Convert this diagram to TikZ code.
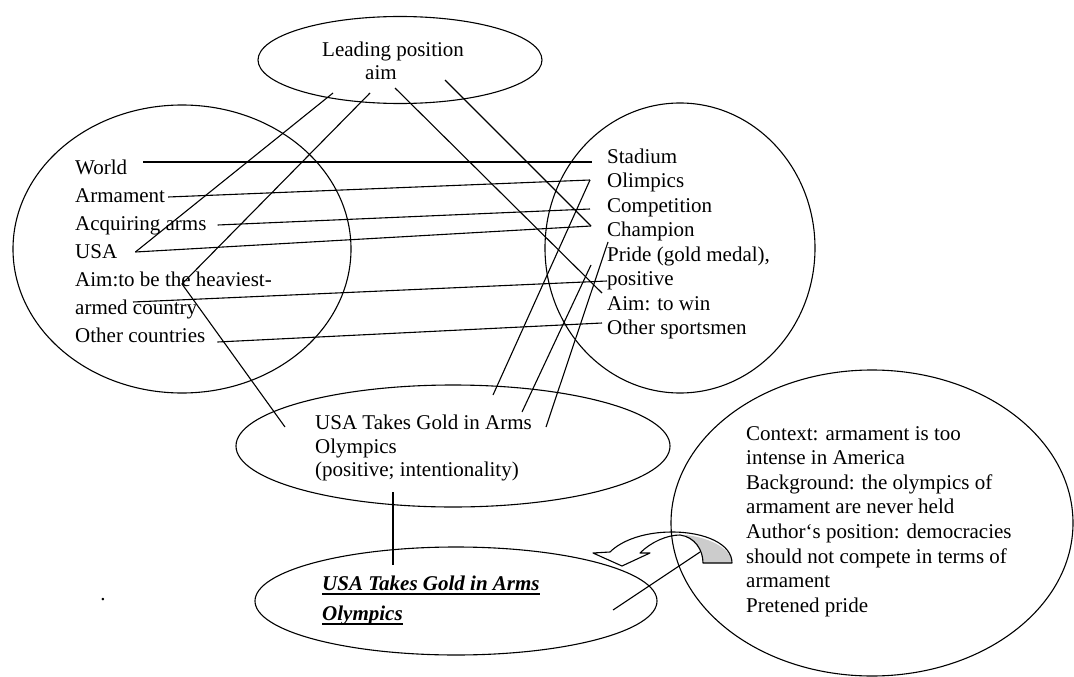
\documentclass[tikz,border=0pt]{standalone}
\usepackage{fontspec}
\setmainfont{Liberation Serif}
\usetikzlibrary{shapes.geometric,calc}

% underlined text with the rule a few points below the baseline
\newcommand{\lowrule}[1]{\setbox0=\hbox{#1}\rlap{\copy0}\rule[-4.5pt]{\wd0}{1.3pt}}

\tikzset{
  oval/.style={draw, ellipse, inner sep=0pt, line width=1.1pt},
  item/.style={inner sep=0pt, anchor=base west, font=\fontsize{21}{25}\selectfont},
  link/.style={line width=1.1pt},
}

\begin{document}
\begin{tikzpicture}[x=1pt,y=-1pt]
\fill[white] (0,0) rectangle (1074,677);
\useasboundingbox (0,0) rectangle (1074,677);

% ---- ovals ----
\node[oval, minimum width=284pt, minimum height=87pt]  (topE) at (400,60)  {};
\node[oval, minimum width=338pt, minimum height=288pt] (leftE) at (182,249) {};
\node[oval, minimum width=270pt, minimum height=290pt] (rightE) at (680,248) {};
\node[oval, minimum width=434pt, minimum height=122pt] (midE) at (453,446) {};
\node[oval, minimum width=402pt, minimum height=108pt] (botE) at (456,601) {};
\node[oval, minimum width=402pt, minimum height=306pt] (ctxE) at (872,523) {};

% ---- top oval text ----
\node[item] (lead) at (322,57) {Leading position};
\node[item] (aimT) at (365,80) {aim};

% ---- left list ----
\node[item] (lWorld) at (75,174) {World};
\node[item] (lArm)   at (75,202) {Armament};
\node[item] (lAcq)   at (75,230) {Acquiring arms};
\node[item] (lUSA)   at (75,258) {USA};
\node[item] (lAim)   at (75,286) {Aim:to be the heaviest-};
\node[item] (lArmed) at (75,314) {armed country};
\node[item] (lOther) at (75,342) {Other countries};

% ---- right list ----
\node[item] (rStad)  at (607,163)   {Stadium};
\node[item] (rOlim)  at (607,187.5) {Olimpics};
\node[item] (rComp)  at (607,212)   {Competition};
\node[item] (rChamp) at (607,236.5) {Champion};
\node[item] (rPride) at (607,261)   {Pride (gold medal),};
\node[item] (rPos)   at (607,285.5) {positive};
\node[item] (rAim)   at (607,310)   {Aim: to win};
\node[item] (rOther) at (607,334.5) {Other sportsmen};

% ---- middle oval text ----
\node[item] (m1) at (315,429) {USA Takes Gold in Arms};
\node[item] (m2) at (315,453) {Olympics};
\node[item] (m3) at (315,476) {(positive; intentionality)};

% ---- bottom oval text ----
\node[item, font=\fontsize{21}{25}\selectfont\bfseries\itshape] (b1) at (322,590) {\lowrule{USA Takes Gold in Arms}};
\node[item, font=\fontsize{21}{25}\selectfont\bfseries\itshape] (b2) at (322,620) {\lowrule{Olympics}};

% ---- context oval text ----
\foreach \t [count=\i from 0] in {Context: armament is too, intense in America,
    Background: the olympics of, armament are never held,
    Author‘s position: democracies, should not compete in terms of,
    armament, Pretened pride}
  \node[item] (ctx\i) at (746,440+24.6*\i) {\t};

% stray dot
\node[item, anchor=base] (dot) at (103,600) {.};

% ---- anchor points inside the ovals ----
\coordinate (tA) at ($(topE.center)+(-67,33)$);
\coordinate (tB) at ($(topE.center)+(-30,33)$);
\coordinate (tC) at ($(topE.center)+(-5,28)$);
\coordinate (tD) at ($(topE.center)+(45,20)$);
\coordinate (mA) at ($(midE.center)+(-168,-19)$);
\coordinate (mB) at ($(midE.center)+(40,-51)$);
\coordinate (mC) at ($(midE.center)+(69,-34)$);
\coordinate (mD) at ($(midE.center)+(93,-19)$);
\coordinate (mE) at ($(midE.center)+(-60,46)$);
\coordinate (bA) at ($(botE.center)+(-63,-36)$);
\coordinate (bB) at ($(botE.center)+(157,9)$);
\coordinate (cA) at ($(ctxE.center)+(-172,29)$);

% points beside the list entries
\coordinate (usaV)  at ($(lUSA.base east)+(18,-6)$);
\coordinate (aimV)  at ($(lAim.base west)+(107,-2)$);
\coordinate (olimV) at ($(rOlim.base west)+(-17,-7.5)$);
\coordinate (champV) at ($(rChamp.base west)+(-16,-10.5)$);

% ---- connectors ----
\draw[link] ($(lWorld.base east)+(16,-12)$) -- ($(rStad.base west)+(-15,-1)$);
\draw[link] ($(lArm.base east)+(3,-5)$) -- (olimV);
\draw[link] ($(lAcq.base east)+(11,-5)$) -- ($(rComp.base west)+(-17,-3)$);
\draw[link] (usaV) -- (champV);
\draw[link] ($(lArmed.base west)+(58,-12)$) -- ($(rPos.base west)+(0,-4.5)$);
\draw[link] ($(lOther.base east)+(12,0)$) -- ($(rOther.base west)+(-5,-11.5)$);

\draw[link] (tA) -- (usaV);
\draw[link] (tB) -- (aimV) -- (mA);
\draw[link] (tC) -- ($(rAim.base west)+(-5,-17)$);
\draw[link] (tD) -- (champV);

\draw[link] (mB) -- (olimV);
\draw[link] (mC) -- ($(rPride.base west)+(-16,4)$);
\draw[link] (mD) -- ($(rPride.base west)+(1,-19)$);
\draw[link] (mE) -- (bA);
\draw[link] (bB) -- (cA);

% ---- curved arrow, shaded at its tail ----
\fill[gray!40] (686,535) .. controls (712,538) and (732,550) .. (732,563)
   -- (703,563) .. controls (703,552) and (696,542) .. (686,537) -- cycle;
\draw[link, line join=round]
  (732,563) .. controls (732,544) and (705,532) .. (672,532)
            .. controls (645,532) and (622,540) .. (610,552)
  -- (593,553) -- (622,566) -- (650,553) -- (640,553)
            .. controls (651,542) and (667,535) .. (680,535)
            .. controls (695,537) and (703,550) .. (703,563) -- cycle;
\end{tikzpicture}
\end{document}
